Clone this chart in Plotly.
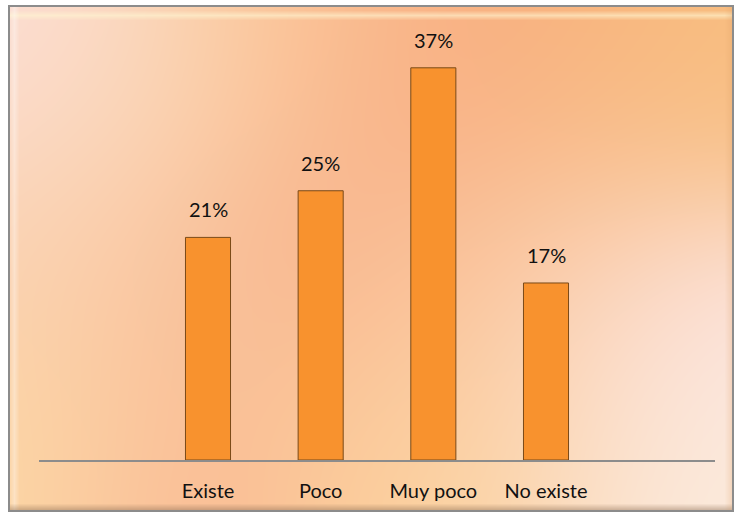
import base64, zlib, struct
import numpy as np
import plotly.graph_objects as go

# ---- data ----
categories = ["Existe", "Poco", "Muy poco", "No existe"]
values = [0.21, 0.254, 0.37, 0.167]
labels = ["21%", "25%", "37%", "17%"]

FW, FH = 735, 517

# ---- background gradient image (style only) ----
FX0, FY0, FX1, FY1 = 9, 6, 733, 511  # frame in screen px
W, H = FX1 - FX0, FY1 - FY0
ctrl = [
    (40, 50, "#FCE0DC"), (40, 250, "#FBD6B8"), (40, 450, "#FDDCA8"),
    (160, 100, "#FAD6B0"), (160, 300, "#F9C49C"), (200, 470, "#F9B592"),
    (300, 40, "#FBC99A"), (300, 250, "#F9AE88"), (420, 80, "#F9A880"),
    (420, 300, "#FAC29A"), (380, 420, "#FBCB9A"), (420, 480, "#FDD79E"),
    (560, 60, "#F8B27C"), (560, 230, "#FAC9A0"), (560, 420, "#FBDAC0"),
    (700, 80, "#F8C080"), (680, 330, "#FCE6E8"), (700, 480, "#FCEEDF"),
]
def hx(c):
    return np.array([int(c[i:i + 2], 16) for i in (1, 3, 5)], dtype=float)
yy, xx = np.mgrid[0:H, 0:W].astype(float)
xx += FX0; yy += FY0
num = np.zeros((H, W, 3)); den = np.zeros((H, W))
for cx, cy, col in ctrl:
    w = np.exp(-((xx - cx) ** 2 + (yy - cy) ** 2) / (2 * 105.0 ** 2))
    num += w[..., None] * hx(col)
    den += w
img = num / den[..., None]
# bevel
fx = xx - FX0; fy = yy - FY0
top = np.clip(1 - np.abs(fy - 9) / 5, 0, 1) * 0.6
img = img * (1 - top[..., None]) + hx("#FFF6D2") * top[..., None]
left = np.clip(1 - np.abs(fx - 5) / 5, 0, 1) * 0.35
img = img * (1 - left[..., None]) + hx("#FFFFFF") * left[..., None]
bot = np.clip(1 - (H - 1 - fy) / 7, 0, 1) * 0.45
img = img * (1 - bot[..., None]) + hx("#8A6A50") * bot[..., None]
rgt = np.clip(1 - (W - 1 - fx) / 8, 0, 1) * 0.25
img = img * (1 - rgt[..., None]) + hx("#D89A60") * rgt[..., None]
img = np.clip(img, 0, 255).astype(np.uint8)

def png(a):
    h, w, _ = a.shape
    raw = b"".join(b"\x00" + a[r].tobytes() for r in range(h))
    def chunk(t, d):
        c = struct.pack(">I", len(d)) + t + d
        return c + struct.pack(">I", zlib.crc32(t + d) & 0xffffffff)
    return (b"\x89PNG\r\n\x1a\n" + chunk(b"IHDR", struct.pack(">IIBBBBB", w, h, 8, 2, 0, 0, 0))
            + chunk(b"IDAT", zlib.compress(raw, 9)) + chunk(b"IEND", b""))
uri = "data:image/png;base64," + base64.b64encode(png(img)).decode()

# ---- geometry (screen px) ----
L, R, T, B = 39, 715, 36, 460
pw, ph = R - L, B - T
def px(x): return (x - L) / pw
def py(y): return (B - y) / ph

FONT = "Lato, Carlito, Calibri, sans-serif"
fig = go.Figure()
fig.add_trace(go.Bar(
    x=list(range(len(categories))), y=values,
    width=0.4,
    marker=dict(color="#F8922E", line=dict(color="#7A4A18", width=1)),
    hoverinfo="skip",
))
for i, (v, t) in enumerate(zip(values, labels)):
    fig.add_annotation(x=i, y=v, text=t, showarrow=False, yanchor="bottom", yshift=14,
                       font=dict(size=20, color="#111111", family=FONT))

fig.update_layout(
    width=FW, height=FH,
    margin=dict(l=L, r=FW - R, t=T, b=FH - B),
    paper_bgcolor="white", plot_bgcolor="rgba(0,0,0,0)",
    showlegend=False,
    images=[dict(source=uri, xref="paper", yref="paper", x=px(FX0), y=py(FY0),
                 sizex=W / pw, sizey=H / ph, sizing="stretch", xanchor="left",
                 yanchor="top", layer="below")],
    shapes=[dict(type="rect", xref="paper", yref="paper", x0=px(FX0), x1=px(FX1),
                 y0=py(FY1), y1=py(FY0), line=dict(color="#8C8C8C", width=2), layer="above")],
    xaxis=dict(range=[-1.5, 4.5], tickvals=list(range(len(categories))), ticktext=categories,
               showgrid=False, zeroline=False, showline=True, linecolor="#8C8C8C", linewidth=2,
               ticks="outside", ticklen=12, tickcolor="rgba(0,0,0,0)",
               tickfont=dict(size=20, color="#111111", family=FONT),
               fixedrange=True),
    yaxis=dict(range=[0, 0.40], visible=False, showgrid=False, zeroline=False, fixedrange=True),
)
fig.write_html("out.html", config={"displayModeBar": False},
               post_script="document.body.style.margin='0';document.body.style.overflow='hidden';")
